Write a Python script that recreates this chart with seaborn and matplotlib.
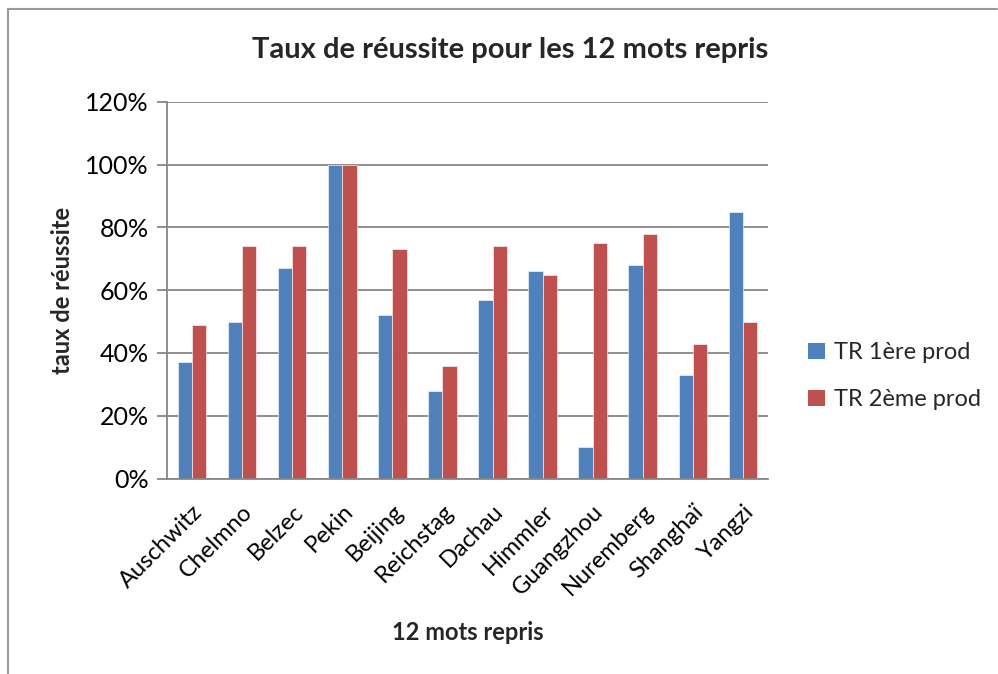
import numpy as np
import pandas as pd
import matplotlib
matplotlib.use('Agg')
import matplotlib.pyplot as plt
import seaborn as sns
from matplotlib.lines import Line2D
from matplotlib.patches import Patch
from matplotlib.ticker import PercentFormatter

# data
mots = ['Auschwitz', 'Chelmno', 'Belzec', 'Pekin', 'Beijing', 'Reichstag',
        'Dachau', 'Himmler', 'Guangzhou', 'Nuremberg', 'Shanghaï', 'Yangzi']
tr1 = [37, 50, 67, 100, 52, 28, 57, 66, 10, 68, 33, 85]
tr2 = [49, 74, 74, 100, 73, 36, 74, 65, 75, 78, 43, 50]
series = ['TR 1ère prod', 'TR 2ème prod']
couleurs = ['#4F81BD', '#C0504D']

df = pd.DataFrame({'mot': mots * 2,
                   'taux': tr1 + tr2,
                   'serie': [series[0]] * 12 + [series[1]] * 12})

sns.set_theme(style='white')
plt.rcParams['font.family'] = ['Lato', 'DejaVu Sans']

fig = plt.figure(figsize=(9.98, 6.74), dpi=100)
ax = fig.add_axes([0.1673, 0.290, 0.6022, 0.5588])

sns.barplot(data=df, x='mot', y='taux', hue='serie', palette=couleurs,
            width=0.57, saturation=1, ax=ax, legend=False,
            edgecolor='white', linewidth=0.4)

ax.set_ylim(0, 120)
ax.set_xlim(-0.5, 11.5)
ax.set_yticks(np.arange(0, 121, 20))
ax.yaxis.set_major_formatter(PercentFormatter(decimals=0))
ax.grid(axis='y', color='#878787', linewidth=1.3)
ax.set_axisbelow(True)
for s in ['top', 'right']:
    ax.spines[s].set_visible(False)
for s in ['left', 'bottom']:
    ax.spines[s].set_color('#878787')
    ax.spines[s].set_linewidth(1.3)

ax.tick_params(axis='y', left=True, length=7, width=1.3, color='#878787',
               labelsize=18, pad=6, labelcolor='black')
ax.tick_params(axis='x', bottom=False, labelsize=17, pad=10, labelcolor='black')
plt.setp(ax.get_xticklabels(), rotation=45, ha='right', rotation_mode='anchor')

ax.set_xlabel('12 mots repris', fontsize=17, fontweight='bold', labelpad=16)
ax.set_ylabel('taux de réussite', fontsize=17, fontweight='bold', labelpad=8)
fig.text(0.511, 0.926, 'Taux de réussite pour les 12 mots repris',
         fontsize=21, fontweight='bold', ha='center', va='center')

handles = [Patch(facecolor=c, edgecolor='none') for c in couleurs]
fig.legend(handles, series, loc='center left', bbox_to_anchor=(0.81, 0.442),
           frameon=False, fontsize=17, handlelength=0.7, handleheight=0.7,
           handletextpad=0.4, labelspacing=1.1, borderpad=0, borderaxespad=0)

# cadre du graphique
fig.add_artist(Line2D([0.008, 0.999], [0.987, 0.987], color='#9a9a9a', lw=1.5,
                      transform=fig.transFigure))
fig.add_artist(Line2D([0.008, 0.008], [0.0, 0.987], color='#9a9a9a', lw=1.5,
                      transform=fig.transFigure))

fig.savefig('out.png', dpi=100)
